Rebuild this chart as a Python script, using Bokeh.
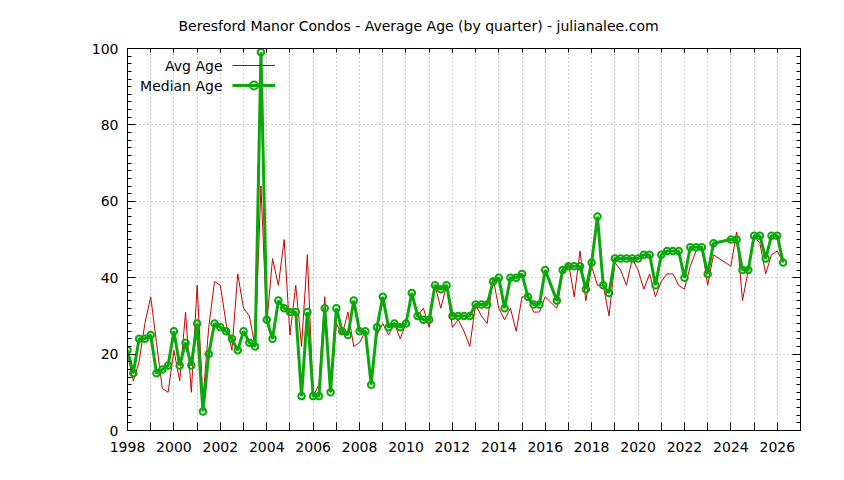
from bokeh.plotting import figure
from bokeh.models import (Range1d, LinearAxis, SingleIntervalTicker, Label, Legend,
                          LegendItem, Grid, Title, CustomJSTickFormatter)
from bokeh.embed import file_html
from bokeh.resources import INLINE

TITLE = "Beresford Manor Condos - Average Age (by quarter) - julianalee.com"
SERIES_NAMES = ["Avg Age", "Median Age"]

quarters = [
    1998.00, 1998.25, 1998.50, 1998.75, 1999.00, 1999.25, 1999.50, 1999.75,
    2000.00, 2000.25, 2000.50, 2000.75, 2001.00, 2001.25, 2001.50, 2001.75,
    2002.00, 2002.25, 2002.50, 2002.75, 2003.00, 2003.25, 2003.50, 2003.75,
    2004.00, 2004.25, 2004.50, 2004.75, 2005.00, 2005.25, 2005.50, 2005.75,
    2006.00, 2006.25, 2006.50, 2006.75, 2007.00, 2007.25, 2007.50, 2007.75,
    2008.00, 2008.25, 2008.50, 2008.75, 2009.00, 2009.25, 2009.50, 2009.75,
    2010.00, 2010.25, 2010.50, 2010.75, 2011.00, 2011.25, 2011.50, 2011.75,
    2012.00, 2012.25, 2012.50, 2012.75, 2013.00, 2013.25, 2013.50, 2013.75,
    2014.00, 2014.25, 2014.50, 2014.75, 2015.00, 2015.25, 2015.50, 2015.75,
    2016.00, 2016.50, 2016.75, 2017.00, 2017.25, 2017.50, 2017.75,
    2018.00, 2018.25, 2018.50, 2018.75, 2019.00, 2019.25, 2019.50, 2019.75,
    2020.00, 2020.25, 2020.50, 2020.75, 2021.00, 2021.25, 2021.50, 2021.75,
    2022.00, 2022.25, 2022.50, 2022.75, 2023.00, 2023.25,
    2024.00, 2024.25, 2024.50, 2024.75, 2025.00, 2025.25, 2025.50, 2025.75,
    2026.00, 2026.25,
]

avg_age = [
    20, 13, 18, 28, 35, 23, 11, 10,
    21, 13, 31, 10, 38, 8, 27, 39,
    38, 28, 21, 41, 32, 30, 22, 64,
    28, 45, 38, 50, 25, 38, 22, 46,
    9, 12, 35, 10, 28, 25, 31, 22,
    23, 26, 12, 25, 28, 25, 28, 24,
    28, 36, 30, 32, 27, 38, 32, 38,
    27, 29, 26, 22, 33, 30, 28, 40,
    32, 29, 32, 26, 35, 35, 31, 31,
    35, 32, 41, 44, 35, 47, 34,
    43, 38, 38, 30, 44, 42, 38, 45,
    42, 37, 41, 35, 39, 41, 41, 38,
    37, 43, 47, 48, 38, 46,
    43, 52, 34, 42, 51, 49, 41, 46,
    47, 44,
]

median_age = [
    21, 15, 24, 24, 25, 15, 16, 17,
    26, 17, 23, 17, 28, 5, 20, 28,
    27, 26, 24, 21, 26, 23, 22, 99,
    29, 24, 34, 32, 31, 31, 9, 31,
    9, 9, 32, 10, 32, 26, 25, 34,
    26, 26, 12, 27, 35, 27, 28, 27,
    28, 36, 30, 29, 29, 38, 37, 38,
    30, 30, 30, 30, 33, 33, 33, 39,
    40, 32, 40, 40, 41, 35, 33, 33,
    42, 34, 42, 43, 43, 43, 37,
    44, 56, 38, 36, 45, 45, 45, 45,
    45, 46, 46, 38, 46, 47, 47, 47,
    40, 48, 48, 48, 41, 49,
    50, 50, 42, 42, 51, 51, 45, 51,
    51, 44,
]

FONT = "DejaVu Sans"
FS = "14px"
RED = "#cc0000"
GREEN = "#0aa80a"

p = figure(width=828, height=464, x_range=Range1d(1998, 2027), y_range=Range1d(0, 100),
           output_backend="svg", toolbar_location=None, tools="",
           x_axis_type=None, y_axis_type=None,
           min_border_left=127, min_border_right=28, min_border_top=48, min_border_bottom=34)
p.outline_line_color = "black"
p.outline_line_width = 1
p.background_fill_color = "white"
p.border_fill_color = "white"

p.title = Title(text=TITLE, align="left", offset=51, text_font=FONT, text_font_size=FS,
                text_font_style="normal", text_color="black", standoff=30)


def style(ax, major, minor, labels=True):
    ax.axis_line_color = "black"
    ax.major_tick_line_color = "black"
    ax.minor_tick_line_color = "black"
    ax.major_tick_in = major
    ax.major_tick_out = 0
    ax.minor_tick_in = minor
    ax.minor_tick_out = 0
    ax.major_label_text_font = FONT
    ax.major_label_text_font_size = FS
    ax.major_label_text_color = "black"
    if not labels:
        ax.formatter = CustomJSTickFormatter(code="return '';")
        ax.major_label_standoff = 0


xb = LinearAxis(ticker=SingleIntervalTicker(interval=2, num_minor_ticks=2))
style(xb, 8, 8)
xb.major_label_standoff = 11
p.add_layout(xb, "below")

xt = LinearAxis(ticker=SingleIntervalTicker(interval=2, num_minor_ticks=2))
style(xt, 4, 4, labels=False)
p.add_layout(xt, "above")

yl = LinearAxis(ticker=SingleIntervalTicker(interval=20, num_minor_ticks=10))
style(yl, 8, 4)
yl.major_label_standoff = 9
p.add_layout(yl, "left")

yr = LinearAxis(ticker=SingleIntervalTicker(interval=20, num_minor_ticks=10))
style(yr, 8, 4, labels=False)
p.add_layout(yr, "right")

gx = Grid(dimension=0, ticker=SingleIntervalTicker(interval=1),
          grid_line_color="#a0a0a0", grid_line_dash="1 3", grid_line_width=1)
gy = Grid(dimension=1, ticker=SingleIntervalTicker(interval=20),
          grid_line_color="#a0a0a0", grid_line_dash="1 3", grid_line_width=1)
p.add_layout(gx)
p.add_layout(gy)

r_avg = p.line(quarters, avg_age, line_color=RED, line_width=1)
r_med = p.line(quarters, median_age, line_color=GREEN, line_width=3)
r_pts = p.scatter(quarters, median_age, marker="circle", size=6.5, line_color=GREEN,
                  line_width=2, fill_color=None)

legend = Legend(items=[LegendItem(label=" ", renderers=[r_avg]),
                       LegendItem(label=" ", renderers=[r_med, r_pts])],
                location=(105, 335), orientation="vertical",
                glyph_width=43, glyph_height=20, label_height=20, label_width=1,
                label_standoff=0, padding=0, margin=0, spacing=0,
                border_line_color=None, background_fill_alpha=0,
                label_text_font_size="1px")
p.add_layout(legend)

for name, yy in zip(SERIES_NAMES, [365, 345]):
    p.add_layout(Label(x=95, y=yy, x_units="screen", y_units="screen", text=name,
                       text_align="right", text_baseline="middle",
                       text_font=FONT, text_font_size=FS, text_color="black"))

open("out.html", "w").write(file_html(p, INLINE))
